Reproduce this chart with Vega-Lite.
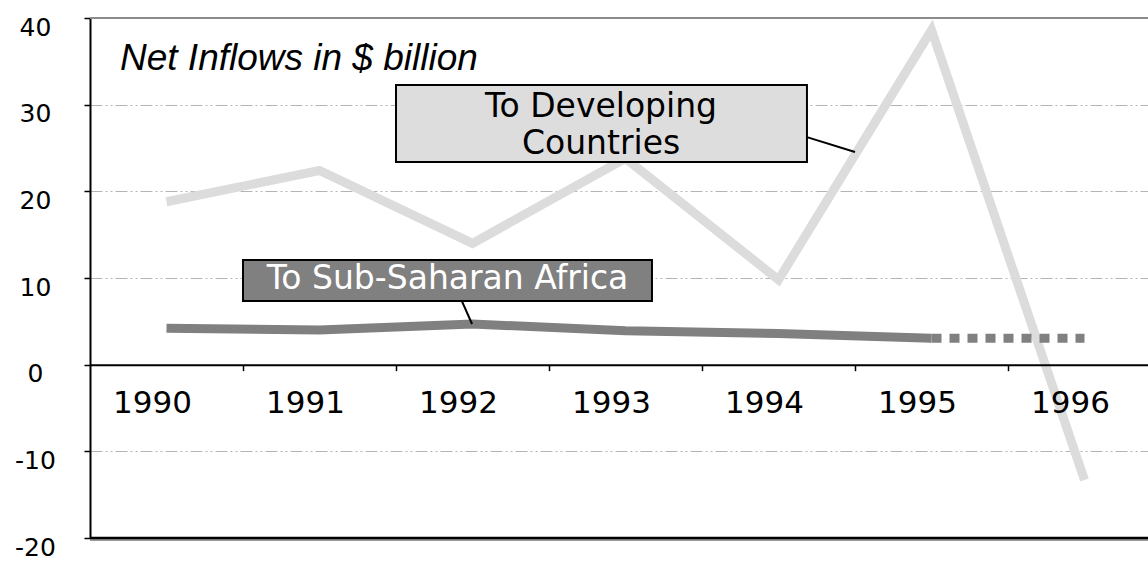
{
  "$schema": "https://vega.github.io/schema/vega-lite/v6.json",
  "width": 1058,
  "height": 520,
  "autosize": {"type": "none"},
  "padding": {"left": 90, "top": 18, "right": 0, "bottom": 23},
  "background": "white",
  "config": {"view": {"stroke": null}, "font": "DejaVu Sans"},
  "data": {
    "values": [
      {"series": "Developing", "year": 1990, "value": 18.8},
      {"series": "Developing", "year": 1991, "value": 22.4},
      {"series": "Developing", "year": 1992, "value": 14.0},
      {"series": "Developing", "year": 1993, "value": 23.8},
      {"series": "Developing", "year": 1994, "value": 9.8},
      {"series": "Developing", "year": 1995, "value": 38.6},
      {"series": "Developing", "year": 1996, "value": -13.3},
      {"series": "Africa", "year": 1990, "value": 4.2},
      {"series": "Africa", "year": 1991, "value": 4.0},
      {"series": "Africa", "year": 1992, "value": 4.7},
      {"series": "Africa", "year": 1993, "value": 3.9},
      {"series": "Africa", "year": 1994, "value": 3.6},
      {"series": "Africa", "year": 1995, "value": 3.05},
      {"series": "AfricaEst", "year": 1995, "value": 3.05},
      {"series": "AfricaEst", "year": 1996, "value": 3.05}
    ]
  },
  "layer": [
    {
      "transform": [{"filter": "datum.series === 'Developing'"}],
      "mark": {"type": "line", "color": "#dcdcdc", "strokeWidth": 9, "strokeJoin": "miter"},
      "encoding": {
        "x": {
          "field": "year", "type": "quantitative",
          "scale": {"domain": [1989.5, 1996.5], "range": [0, 1071], "nice": false, "zero": false},
          "axis": {
            "values": [1990.5, 1991.5, 1992.5, 1993.5, 1994.5, 1995.5, 1996.5],
            "labelExpr": "'' + (datum.value - 0.5)",
            "labelOffset": -91,
            "labelFlush": false,
            "labelOverlap": false,
            "offset": -173.33,
            "zindex": 1,
            "domainColor": "black", "domainWidth": 2,
            "tickColor": "black", "tickWidth": 1.5, "tickSize": 6,
            "labelFont": "DejaVu Sans", "labelFontSize": 31, "labelColor": "black",
            "labelPadding": 18,
            "grid": false, "title": null
          }
        },
        "y": {
          "field": "value", "type": "quantitative",
          "scale": {"domain": [-20, 40], "nice": false, "zero": false},
          "axis": {
            "values": [-20, -10, 0, 10, 20, 30, 40],
            "labelExpr": "'' + datum.value",
            "grid": true, "gridColor": "#b4b4b4", "gridDash": [12, 3, 2, 3, 2, 3], "gridWidth": 1,
            "domainColor": "black", "domainWidth": 2,
            "tickColor": "black", "tickWidth": 1.5, "tickSize": 6,
            "labelFont": "DejaVu Sans", "labelFontSize": 25, "labelColor": "black",
            "labelAlign": "center", "labelPadding": 49, "labelOffset": 9,
            "title": null
          }
        }
      }
    },
    {
      "data": {"values": [{}]},
      "mark": {"type": "rule", "color": "#8c8c8c", "strokeWidth": 2},
      "encoding": {"y": {"datum": 40}}
    },
    {
      "data": {"values": [{}]},
      "mark": {"type": "rule", "color": "#9a9a9a", "strokeWidth": 2, "yOffset": 2},
      "encoding": {"y": {"datum": -20}}
    },
    {
      "data": {"values": [{}]},
      "mark": {"type": "rule", "color": "black", "strokeWidth": 2.5},
      "encoding": {"y": {"datum": -20}}
    },
    {
      "transform": [{"filter": "datum.series === 'Africa'"}],
      "mark": {"type": "line", "color": "#808080", "strokeWidth": 9, "strokeJoin": "miter"},
      "encoding": {
        "x": {"field": "year", "type": "quantitative"},
        "y": {"field": "value", "type": "quantitative"}
      }
    },
    {
      "transform": [{"filter": "datum.series === 'AfricaEst'"}],
      "mark": {"type": "line", "color": "#808080", "strokeWidth": 9, "strokeDash": [10, 8]},
      "encoding": {
        "x": {"field": "year", "type": "quantitative"},
        "y": {"field": "value", "type": "quantitative"}
      }
    },
    {
      "data": {"values": [{}]},
      "mark": {"type": "rule", "color": "black", "strokeWidth": 2},
      "encoding": {
        "x": {"datum": 1991.93}, "x2": {"datum": 1991.997},
        "y": {"datum": 7.35}, "y2": {"datum": 4.69}
      }
    },
    {
      "data": {"values": [{}]},
      "mark": {"type": "rule", "color": "black", "strokeWidth": 2},
      "encoding": {
        "x": {"datum": 1994.186}, "x2": {"datum": 1994.5},
        "y": {"datum": 26.25}, "y2": {"datum": 24.54}
      }
    },
    {
      "data": {"values": [{}]},
      "mark": {"type": "rect", "fill": "#808080", "stroke": "black", "strokeWidth": 2},
      "encoding": {
        "x": {"datum": 1990.5}, "x2": {"datum": 1993.173},
        "y": {"datum": 12.08}, "y2": {"datum": 7.35}
      }
    },
    {
      "data": {"values": [{}]},
      "mark": {"type": "text", "text": "To Sub-Saharan Africa", "font": "DejaVu Sans", "fontSize": 33, "color": "white", "align": "center", "baseline": "alphabetic"},
      "encoding": {"x": {"datum": 1991.837}, "y": {"datum": 8.7}}
    },
    {
      "data": {"values": [{}]},
      "mark": {"type": "rect", "fill": "#dddddd", "stroke": "black", "strokeWidth": 2},
      "encoding": {
        "x": {"datum": 1991.5}, "x2": {"datum": 1994.186},
        "y": {"datum": 32.27}, "y2": {"datum": 23.38}
      }
    },
    {
      "data": {"values": [{}]},
      "mark": {"type": "text", "text": ["To Developing", "Countries"], "lineHeight": 37, "font": "DejaVu Sans", "fontSize": 33, "color": "black", "align": "center", "baseline": "alphabetic"},
      "encoding": {"x": {"datum": 1992.84}, "y": {"datum": 28.6}}
    },
    {
      "data": {"values": [{}]},
      "mark": {"type": "text", "text": "Net Inflows in $ billion", "font": "Liberation Sans", "fontStyle": "italic", "fontSize": 37, "color": "black", "align": "left", "baseline": "alphabetic"},
      "encoding": {"x": {"datum": 1989.696}, "y": {"datum": 34.0}}
    }
  ]
}
